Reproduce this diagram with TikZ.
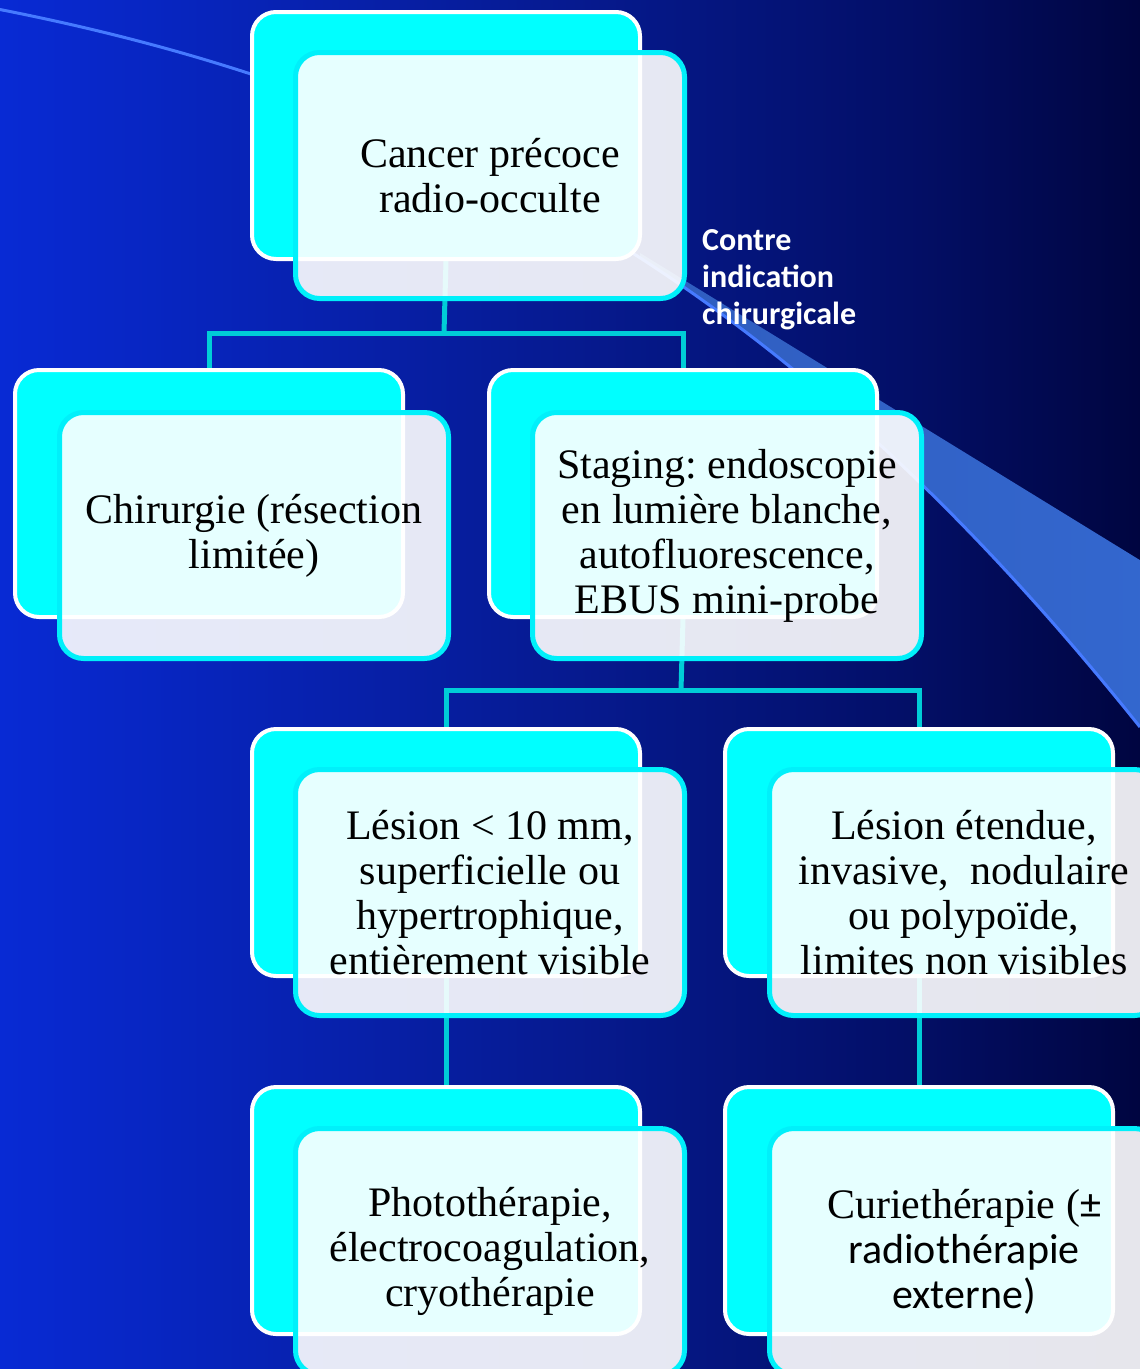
\documentclass[tikz,border=0pt]{standalone}
\usepackage{fontspec}
\setmainfont{Liberation Serif}
\newfontfamily\calfont{Carlito}
\usetikzlibrary{calc}
\definecolor{bgA}{RGB}{8,42,212}
\definecolor{bgB}{RGB}{6,26,144}
\definecolor{bgC}{RGB}{3,15,104}
\definecolor{bgD}{RGB}{0,5,64}
\definecolor{boxcyan}{RGB}{0,255,255}
\definecolor{frontline}{RGB}{0,240,250}
\definecolor{connc}{RGB}{0,205,215}
\definecolor{swc}{RGB}{70,122,255}
\definecolor{wedgeL}{RGB}{42,80,170}
\definecolor{wedgeR}{RGB}{52,104,208}
\pgfdeclarehorizontalshading{bgshade}{100bp}{color(0bp)=(bgA); color(25bp)=(bgA); color(50bp)=(bgB); color(64.5bp)=(bgC); color(75bp)=(bgD); color(100bp)=(bgD)}
\pgfdeclarelayer{bgl}
\pgfdeclarelayer{connl}
\pgfsetlayers{bgl,connl,main}
\tikzset{
  backbox/.style={rectangle, rounded corners=24pt, draw=white, line width=4pt,
    fill=boxcyan, minimum width=388pt, minimum height=247pt, anchor=north west, inner sep=0pt},
  frontbox/.style={rectangle, rounded corners=24pt, draw=frontline, line width=5pt,
    fill=white, fill opacity=0.9, draw opacity=1, text opacity=1, text=black,
    minimum width=389pt, minimum height=246pt, anchor=north west, align=center,
    inner sep=0pt, font=\fontsize{42}{45}\selectfont\frenchspacing},
  conn/.style={draw=connc, line width=5pt},
  swoosh/.style={draw=swc, line width=3pt},
  sidenote/.style={anchor=north west, align=left, text=white, inner sep=0pt,
    font=\calfont\bfseries\fontsize{32}{37}\selectfont},
}
\begin{document}
\begin{tikzpicture}[x=1pt,y=-1pt]
\useasboundingbox (0,0) rectangle (1140,1369);
\clip (0,0) rectangle (1140,1369);
\begin{pgfonlayer}{bgl}
  \shade[shading=bgshade] (0,0) rectangle (1140,1369);
  \begin{scope}
    \clip (640,253) -- (1200,597) -- (1200,900) -- (640,900) -- cycle;
    \shade[left color=wedgeL, right color=wedgeR]
      (-40,2) .. controls (460,92) and (800,302) .. (1140,727)
      -- (1200,800) -- (1200,-50) -- (-40,-50) -- cycle;
  \end{scope}
  \draw[swoosh] (-40,2) .. controls (460,92) and (800,302) .. (1140,727);
\end{pgfonlayer}

% node 1
\node[backbox] (n1b) at (250,10) {};
\node[frontbox] (n1f) at (293,50) {Cancer précoce\\radio-occulte};
% node 2
\node[backbox] (n2b) at (13,368) {};
\node[frontbox] (n2f) at (57,410) {Chirurgie (résection\\limitée)};
% node 3
\node[backbox] (n3b) at (487,368) {};
\node[frontbox] (n3f) at (530,410) {Staging: endoscopie\\en lumière blanche,\\autofluorescence,\\EBUS mini-probe};
% node 4
\node[backbox] (n4b) at (250,727) {};
\node[frontbox] (n4f) at (293,767) {Lésion < 10 mm,\\superficielle ou\\hypertrophique,\\entièrement visible};
% node 5
\node[backbox] (n5b) at (723,727) {};
\node[frontbox] (n5f) at (767,767) {Lésion étendue,\\invasive,~ nodulaire\\ou polypoïde,\\limites non visibles};
% node 6
\node[backbox] (n6b) at (250,1085) {};
\node[frontbox] (n6f) at (293,1126) {Photothérapie,\\électrocoagulation,\\cryothérapie};
% node 7
\node[backbox] (n7b) at (723,1085) {};
\node[frontbox] (n7f) at (767,1126) {Curiethérapie ({\calfont ±}\\{\calfont radiothérapie}\\{\calfont externe)}};

\node[sidenote] (ci) at (702,229) {Contre\\indication\\chirurgicale};

\coordinate (j1) at (444,333);
\coordinate (j2) at (681,690);
\begin{pgfonlayer}{connl}
  \draw[conn] (n1b.south) -- (j1);
  \draw[conn] (j1) -| (n2b.north);
  \draw[conn] (j1) -| (n3b.north);
  \draw[conn] (n3b.south) -- (j2);
  \draw[conn] (j2) -| (n4b.north);
  \draw[conn] (j2) -| (n5b.north);
  \draw[conn] (n4b.south) -- (n6b.north);
  \draw[conn] (n5b.south) -- (n7b.north);
\end{pgfonlayer}
\end{tikzpicture}
\end{document}
